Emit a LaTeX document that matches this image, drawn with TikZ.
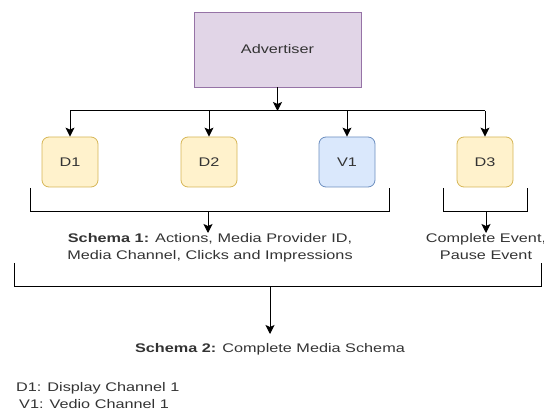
\documentclass[tikz,border=0pt]{standalone}
\usepackage{xcolor}
\usepackage{fontspec}
\setmainfont[FakeStretch=1.3]{Liberation Sans}
\usetikzlibrary{arrows.meta,positioning}

\definecolor{advfill}{RGB}{225,213,231}
\definecolor{advline}{RGB}{150,115,166}
\definecolor{dfill}{RGB}{255,242,204}
\definecolor{dline}{RGB}{214,182,86}
\definecolor{vfill}{RGB}{218,232,252}
\definecolor{vline}{RGB}{108,142,191}

\begin{document}
\begin{tikzpicture}[x=1pt,y=1pt,yscale=-1,
	every node/.style={font=\fontsize{12.5}{17}\selectfont,text=black!80},
	chan/.style={draw,rounded corners=7pt,minimum width=56pt,minimum height=50pt,line width=0.8pt},
	link/.style={line width=1pt},
	flow/.style={link,-{Stealth[length=9pt,width=9pt,inset=2pt]}}]
	\useasboundingbox (0,0) rectangle (544,414);
	
	%Advertiser box
	\node [draw=advline,fill=advfill,line width=0.8pt,minimum width=167pt,minimum height=75pt] (adv) at (277.5,49.5) {Advertiser};
	%Channels
	\node [chan,draw=dline,fill=dfill] (d1) at (70,162) {D1};
	\node [chan,draw=dline,fill=dfill] (d2) at (209,162) {D2};
	\node [chan,draw=vline,fill=vfill] (v1) at (347,162) {V1};
	\node [chan,draw=dline,fill=dfill] (d3) at (485,162) {D3};
	
	%Split under advertiser
	\coordinate (split) at (277.5,111);
	\draw [flow] (adv) -- (split);
	\draw [link] (d1 |- split) -- (d3 |- split);
	\foreach \ch in {d1,d2,v1,d3}
		\draw [flow] (\ch |- split) -- (\ch);
	
	% Text Node
	\node [anchor=north,inner sep=0pt,align=center] (schA) at (210,233) {\textbf{Schema 1:} Actions, Media Provider ID,\\Media Channel, Clicks and Impressions};
	% Text Node
	\node [anchor=north,inner sep=0pt,align=center] (schB) at (486,233) {Complete Event,\\Pause Event};
	% Text Node
	\node [anchor=north,inner sep=0pt] (schC) at (270,343) {\textbf{Schema 2:} Complete Media Schema};
	% Text Node
	\node [anchor=north west,inner sep=0pt,align=left] (legend) at (16,382) {D1: Display Channel 1\\\hspace{3pt}V1: Vedio Channel 1};
	
	%Bracket under D1, D2, V1
	\coordinate (brA) at (208,212);
	\draw [link] (30,188) -- (30,212) -- (389,212) -- (389,188);
	\draw [flow] (brA) -- (brA |- schA.north);
	%Bracket under D3
	\coordinate (brB) at (486,212);
	\draw [link] (443,188) -- (443,212) -- (527,212) -- (527,188);
	\draw [flow] (brB) -- (schB);
	%Bracket under both schemas
	\coordinate (brC) at (270,287);
	\draw [link] (14,263) -- (14,287) -- (541,287) -- (541,263);
	\draw [flow,shorten >=9pt] (brC) -- (brC |- schC.north);
	
\end{tikzpicture}
\end{document}
